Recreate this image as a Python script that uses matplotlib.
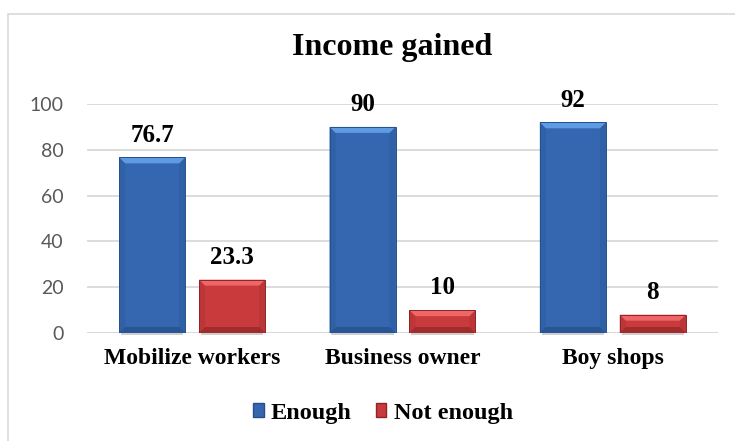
import matplotlib
matplotlib.use("Agg")
import matplotlib.pyplot as plt
from matplotlib.patches import Polygon, Rectangle
import numpy as np

# data
categories = ["Mobilize workers", "Business owner", "Boy shops"]
enough = [76.7, 90, 92]
not_enough = [23.3, 10, 8]
series_names = ["Enough", "Not enough"]

serif = "Liberation Serif"

fig = plt.figure(figsize=(7.35, 4.41), dpi=100)
fig.patch.set_facecolor("white")

# light frame around the chart area
fig.patches.append(Rectangle((8 / 735, -0.05), 1.0, 1 - 14 / 441 + 0.05,
                             transform=fig.transFigure, fill=False,
                             edgecolor="#D9D9D9", linewidth=1.2))

ax = fig.add_axes([87 / 735, 108 / 441, 631 / 735, 229 / 441])

x = np.arange(len(categories))
w = 0.314
off = 0.19

blue = dict(face="#3467B0", light="#5F9BE2", dark="#2A5594", side="#3060A6", edge="#25508C")
red = dict(face="#C93A3C", light="#EE6668", dark="#A02C2E", side="#BC3537", edge="#8E2426")

ax.yaxis.grid(True, color="#D9D9D9", linewidth=1.3)
ax.set_axisbelow(True)

bars1 = ax.bar(x - off, enough, w, color=blue["face"], zorder=2)
bars2 = ax.bar(x + off, not_enough, w, color=red["face"], zorder=2)

ax.set_xlim(-0.5, 2.5)
ax.set_ylim(0, 100)

# bevel edges on each bar
px_x = 3 / 631
px_y = 100 / 229


def bevel(rect, pal):
    x0 = rect.get_x()
    x1 = x0 + rect.get_width()
    y0 = 0
    y1 = rect.get_height()
    bx = 6 * px_x
    by = min(6 * px_y, y1 / 2.5)
    parts = [
        ([(x0, y0), (x0, y1), (x0 + bx, y1 - by), (x0 + bx, y0 + by)], pal["side"]),
        ([(x1, y0), (x1, y1), (x1 - bx, y1 - by), (x1 - bx, y0 + by)], pal["side"]),
        ([(x0, y0), (x1, y0), (x1 - bx, y0 + by), (x0 + bx, y0 + by)], pal["dark"]),
        ([(x0, y1), (x1, y1), (x1 - bx, y1 - by), (x0 + bx, y1 - by)], pal["light"]),
    ]
    for pts, c in parts:
        ax.add_patch(Polygon(pts, closed=True, facecolor=c, edgecolor="none", zorder=3))
    ax.add_patch(Rectangle((x0, y0), x1 - x0, y1, fill=False,
                           edgecolor=pal["edge"], linewidth=0.7, zorder=4))
    # soft shadow under the bar
    ax.add_patch(Rectangle((x0 + bx * 0.3, -2.2 * px_y), x1 - x0 - bx * 0.6, 2.2 * px_y,
                           facecolor="#CFCFCF", edgecolor="none", zorder=1, clip_on=False))


for b in bars1:
    bevel(b, blue)
for b in bars2:
    bevel(b, red)

# value labels
for bars, vals in ((bars1, enough), (bars2, not_enough)):
    for b, v in zip(bars, vals):
        ax.annotate(f"{v:g}", (b.get_x() + b.get_width() / 2, v),
                    xytext=(0, 16), textcoords="offset points",
                    ha="center", va="center", fontsize=18, fontweight="bold",
                    family=serif, clip_on=False, zorder=5)

for s in ax.spines.values():
    s.set_visible(False)
ax.axhline(0, color="#D9D9D9", linewidth=1.3, zorder=1)

ax.set_yticks([0, 20, 40, 60, 80, 100])
ax.tick_params(axis="y", length=0, pad=17, labelsize=14, labelcolor="#595959")
for t in ax.get_yticklabels():
    t.set_family("Lato")
ax.set_xticks(x)
ax.set_xticklabels(categories, fontsize=17, fontweight="bold", family=serif)
ax.tick_params(axis="x", length=0, pad=11)

fig.text(392 / 735, 1 - 47 / 441, "Income gained", ha="center", va="center",
         fontsize=23, fontweight="bold", family=serif)

# legend
handles = [Rectangle((0, 0), 1, 1, facecolor=blue["face"], edgecolor=blue["edge"]),
           Rectangle((0, 0), 1, 1, facecolor=red["face"], edgecolor=red["edge"])]
fig.legend(handles, series_names, loc="center", bbox_to_anchor=(383 / 735, 1 - 413 / 441),
           ncol=2, frameon=False, handlelength=0.42, handleheight=0.5,
           handletextpad=0.3, columnspacing=1.0,
           prop=dict(family=serif, weight="bold", size=17.5))

fig.savefig("out.png", dpi=100)
